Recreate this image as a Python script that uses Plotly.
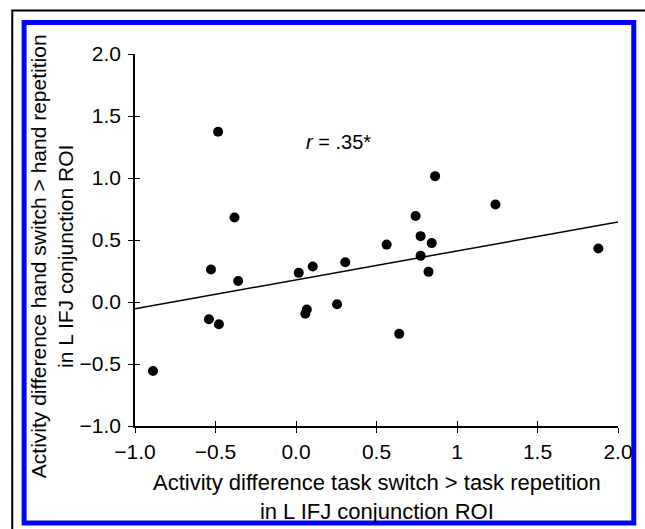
import plotly.graph_objects as go

# Data
task_switch = [-0.484, -0.382, -0.528, -0.359, 0.017, -0.541, -0.479, -0.888,
               0.104, 0.306, 0.067, 0.058, 0.255, 0.563, 0.641, 0.743, 0.774,
               0.843, 0.774, 0.823, 0.864, 1.239, 1.878]
hand_switch = [1.373, 0.681, 0.262, 0.170, 0.235, -0.139, -0.179, -0.556,
               0.286, 0.321, -0.060, -0.095, -0.018, 0.463, -0.257, 0.693, 0.531,
               0.475, 0.372, 0.243, 1.015, 0.786, 0.431]
fit_x = [-1.0, 2.0]
fit_y = [-0.055, 0.645]

tick_vals = [-1.0, -0.5, 0.0, 0.5, 1.0, 1.5, 2.0]
x_tick_text = ["\u22121.0", "\u22120.5", "0.0", "0.5", "1", "1.5", "2.0"]
y_tick_text = ["\u22121.0", "\u22120.5", "0.0", "0.5", "1.0", "1.5", "2.0"]

W, H = 645, 529
ML, MR, MT, MB = 135, 20, 54, 103
PW, PH = W - ML - MR, H - MT - MB


def px(x):
    return (x - ML) / PW


def py(y):
    return (H - MB - y) / PH


FONT = "Arial, Liberation Sans, sans-serif"

fig = go.Figure()
fig.add_trace(go.Scatter(x=fit_x, y=fit_y, mode="lines",
                         line=dict(color="black", width=1.5),
                         showlegend=False, hoverinfo="skip"))
fig.add_trace(go.Scatter(x=task_switch, y=hand_switch, mode="markers",
                         marker=dict(color="black", size=10),
                         showlegend=False))
fig.add_trace(go.Scatter(x=[None], y=[None], xaxis="x2", yaxis="y2",
                         showlegend=False, hoverinfo="skip"))

axis_common = dict(range=[-1, 2], tickvals=tick_vals, showgrid=False,
                   zeroline=False, tickcolor="black", tickwidth=1.2)

fig.update_layout(
    width=W, height=H,
    margin=dict(l=ML, r=MR, t=MT, b=MB),
    paper_bgcolor="white", plot_bgcolor="white",
    font=dict(family=FONT, size=21, color="black"),
    xaxis=dict(**axis_common, ticktext=x_tick_text, ticks="outside", ticklen=5,
               showline=True, linecolor="black", linewidth=1.5,
               tickfont=dict(size=21), ticklabelstandoff=1),
    yaxis=dict(**axis_common, ticktext=y_tick_text, ticks="outside", ticklen=5,
               showline=True, linecolor="black", linewidth=1.5,
               tickfont=dict(size=21), ticklabelstandoff=3),
    xaxis2=dict(**axis_common, overlaying="x", anchor="y2", ticks="inside",
                ticklen=5, showticklabels=False, showline=False),
    yaxis2=dict(**axis_common, overlaying="y", anchor="x2", ticks="inside",
                ticklen=5, showticklabels=False, showline=False),
    annotations=[
        dict(text="<i>r</i> = .35*", x=px(341), y=py(141.5), xref="paper", yref="paper",
             showarrow=False, font=dict(size=20), xanchor="center", yanchor="middle"),
        dict(text="Activity difference task switch > task repetition<br>in L IFJ conjunction ROI",
             x=px(380), y=py(496.5), xref="paper", yref="paper", showarrow=False,
             font=dict(size=22), xanchor="center", yanchor="middle"),
        dict(text="Activity difference hand switch > hand repetition<br>in L IFJ conjunction ROI",
             x=px(51), y=py(256), xref="paper", yref="paper", showarrow=False,
             textangle=-90, font=dict(size=21), xanchor="center", yanchor="middle"),
    ],
    shapes=[
        dict(type="rect", xref="paper", yref="paper",
             x0=px(10.5), x1=px(660), y0=py(10.5), y1=py(545),
             line=dict(color="black", width=2), layer="below"),
        dict(type="rect", xref="paper", yref="paper",
             x0=px(22.5), x1=px(641), y0=py(22.5), y1=py(523),
             line=dict(color="#0000FF", width=5), layer="below"),
    ],
)

fig.write_html("out.html", config={"displayModeBar": False},
               post_script="document.body.style.margin='0';document.body.style.overflow='hidden';")
